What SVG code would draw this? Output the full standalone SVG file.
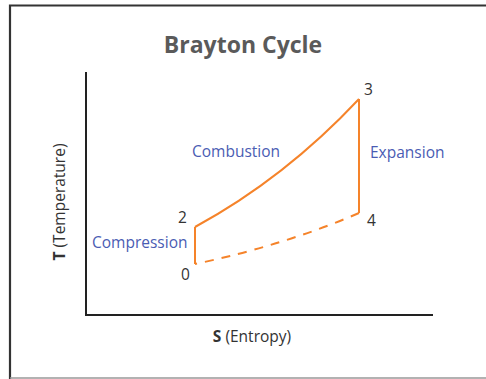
<svg xmlns="http://www.w3.org/2000/svg" width="486" height="379" viewBox="0 0 486 379">
<style>
.lbl{font-family:"Open Sans","Liberation Sans",sans-serif;font-size:15.5px;fill:#333}
.phase{font-family:"Open Sans","Liberation Sans",sans-serif;font-size:15.5px;fill:#4a5cb3}
.axis{stroke:#222;stroke-width:2;fill:none}
.cyc{stroke:#f5832a;stroke-width:2;fill:none}
</style>
<rect width="486" height="379" fill="#fff"/>
<g id="frame">
<path d="M487 5.5 H10 V379" fill="none" stroke="#333" stroke-width="2.2"/>
<line x1="10" y1="378" x2="486" y2="378" stroke="#999" stroke-width="1.5"/>
</g>
<text id="title" x="243" y="53" text-anchor="middle" font-family="'Open Sans','Liberation Sans',sans-serif" font-size="23" font-weight="bold" fill="#5a5a5a">Brayton Cycle</text>
<g id="axes">
<path class="axis" d="M86 72 V315 H433"/>
<text x="252" y="342" text-anchor="middle" font-family="'Open Sans','Liberation Sans',sans-serif" font-size="15.5" fill="#333"><tspan font-weight="bold">S</tspan> (Entropy)</text>
<text transform="translate(65 202) rotate(-90)" text-anchor="middle" font-family="'Open Sans','Liberation Sans',sans-serif" font-size="15.5" fill="#333"><tspan font-weight="bold">T</tspan> (Temperature)</text>
</g>
<g id="connectors">
<path class="cyc" d="M195 264 V227"/>
<path class="cyc" d="M195 227 Q285 178 359 99"/>
<path class="cyc" d="M359 99 V213"/>
<path class="cyc" d="M359 213 Q285 245 195 264" stroke-dasharray="9 8"/>
</g>
<g id="p0"><text class="lbl" x="181" y="280">0</text></g>
<g id="p2"><text class="lbl" x="178" y="223">2</text></g>
<g id="p3"><text class="lbl" x="364" y="95">3</text></g>
<g id="p4"><text class="lbl" x="367" y="226">4</text></g>
<g id="combustion"><text class="phase" x="192" y="157">Combustion</text></g>
<g id="expansion"><text class="phase" x="370" y="158">Expansion</text></g>
<g id="compression"><text class="phase" x="92" y="248">Compression</text></g>
</svg>
